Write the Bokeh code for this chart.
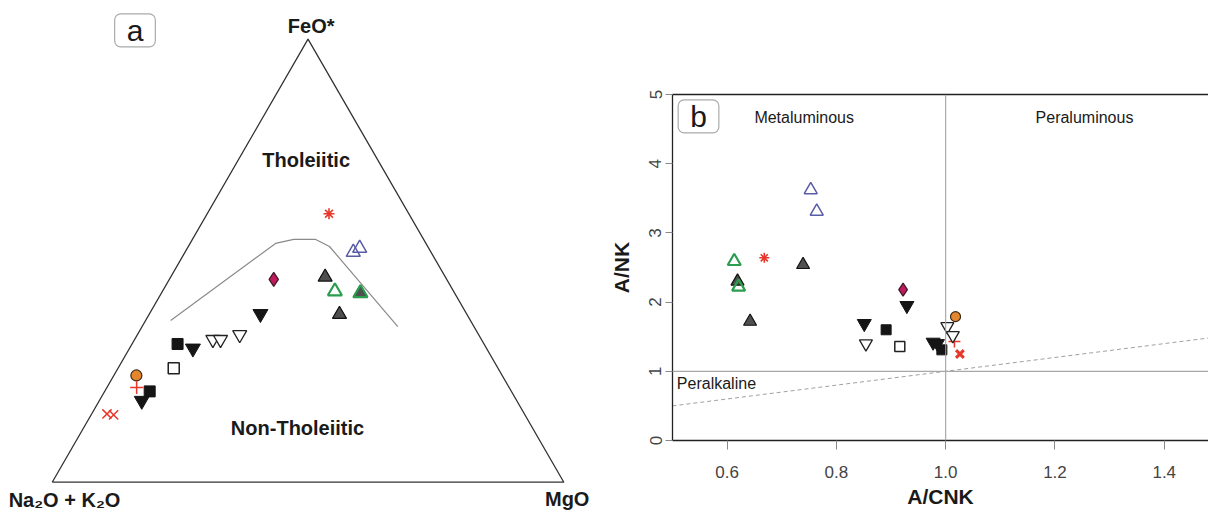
import numpy as np
from bokeh.plotting import figure
from bokeh.layouts import row, column
from bokeh.models import Range1d, Label, Span, LinearAxis, FixedTicker, NumeralTickFormatter
from bokeh.embed import file_html
from bokeh.resources import INLINE

FONT = "Liberation Sans"
SQ3 = np.sqrt(3) / 2

# ---------------- AFM ternary data (wt% FeO*, Na2O+K2O, MgO) ----------------
afm_cross_feo, afm_cross_alk, afm_cross_mgo = [15.4, 15.2], [81.6, 80.4], [3.0, 4.4]
afm_circle_feo, afm_circle_alk, afm_circle_mgo = [24.1], [71.5], [4.4]
afm_plus_feo, afm_plus_alk, afm_plus_mgo = [21.4], [72.8], [5.8]
afm_sqb_feo, afm_sqb_alk, afm_sqb_mgo = [20.5, 31.2], [70.7, 59.9], [8.8, 8.9]
afm_dtb_feo, afm_dtb_alk, afm_dtb_mgo = [18.4, 30.2, 38.0], [73.3, 57.4, 40.3], [8.3, 12.4, 21.7]
afm_sqo_feo, afm_sqo_alk, afm_sqo_mgo = [25.7], [63.4], [10.9]
afm_dto_feo, afm_dto_alk, afm_dto_mgo = [32.2, 32.2, 33.3], [52.5, 51.0, 46.7], [15.3, 16.8, 20.0]
afm_dia_feo, afm_dia_alk, afm_dia_mgo = [45.8], [33.8], [20.4]
afm_trg_feo, afm_trg_alk, afm_trg_mgo = [46.3, 37.9, 42.6], [23.5, 24.9, 18.5], [30.2, 37.2, 38.9]
afm_trn_feo, afm_trn_alk, afm_trn_mgo = [43.1, 42.7], [23.2, 18.4], [33.7, 38.9]
afm_trb_feo, afm_trb_alk, afm_trb_mgo = [51.9, 52.8], [15.2, 13.5], [32.9, 33.7]
afm_ast_feo, afm_ast_alk, afm_ast_mgo = [60.6], [15.6], [23.8]

# tholeiitic / calc-alkaline boundary
bound_feo = [36.5, 53.9, 54.8, 54.8, 53.2, 35.1]
bound_alk = [58.6, 29.4, 25.4, 21.1, 19.2, 14.9]
bound_mgo = [4.9, 16.7, 19.8, 24.1, 27.6, 50.0]

# triangle corners: Na2O+K2O, MgO, FeO*, back to start
corner_feo = [0, 0, 100, 0]
corner_alk = [100, 0, 0, 100]
corner_mgo = [0, 100, 0, 0]

# ---------------- Shand index data (A/CNK, A/NK) ----------------
sh_cross_x, sh_cross_y = [1.026], [1.25]
sh_circle_x, sh_circle_y = [1.018], [1.79]
sh_plus_x, sh_plus_y = [1.016], [1.43]
sh_sqb_x, sh_sqb_y = [0.891, 0.993], [1.60, 1.31]
sh_dtb_x, sh_dtb_y = [0.929, 0.851, 0.977, 0.985], [1.95, 1.69, 1.42, 1.40]
sh_sqo_x, sh_sqo_y = [0.916], [1.36]
sh_dto_x, sh_dto_y = [0.854, 1.003, 1.013], [1.40, 1.65, 1.52]
sh_dia_x, sh_dia_y = [0.922], [2.18]
sh_trg_x, sh_trg_y = [0.739, 0.619, 0.642], [2.54, 2.30, 1.72]
sh_trn_x, sh_trn_y = [0.613, 0.621], [2.59, 2.22]
sh_trb_x, sh_trb_y = [0.753, 0.764], [3.62, 3.31]
sh_ast_x, sh_ast_y = [0.668], [2.64]

# A/NK = A/CNK reference line
eq_x = [0.5, 1.5]
eq_y = [0.5, 1.5]

x_ticks = [0.6, 0.8, 1.0, 1.2, 1.4]
y_ticks = [0, 1, 2, 3, 4, 5]

RED = "#e8382c"
STYLE = {
    "cross": dict(marker="x", size=13, fill_color=None, line_color=RED, line_width=1.5),
    "circle": dict(marker="circle", size=11, fill_color="#e3862d", line_color="#3a2a1a", line_width=1.2),
    "plus": dict(marker="cross", size=13, fill_color=None, line_color=RED, line_width=1.5),
    "sqb": dict(marker="square", size=11, fill_color="#151515", line_color="#151515", line_width=1),
    "dtb": dict(marker="inverted_triangle", size=15, fill_color="#151515", line_color="#151515", line_width=1),
    "sqo": dict(marker="square", size=11, fill_color="white", line_color="#222", line_width=1.5),
    "dto": dict(marker="inverted_triangle", size=14, fill_color="white", line_color="#222", line_width=1.3),
    "dia": dict(marker="diamond", size=14, fill_color="#c01a5c", line_color="#3a1a25", line_width=1.2),
    "trg": dict(marker="triangle", size=14, fill_color="#4f4f4f", line_color="#111", line_width=1.2),
    "trn": dict(marker="triangle", size=14, fill_color="white", fill_alpha=0.0, line_color="#2a9d4e", line_width=2.2),
    "trb": dict(marker="triangle", size=14, fill_color="white", fill_alpha=0.0, line_color="#5a5ca6", line_width=1.5),
    "ast": dict(marker="asterisk", size=11, fill_color=None, line_color=RED, line_width=1.6),
}
ORDER = ["cross", "circle", "plus", "sqb", "dtb", "sqo", "dto", "dia", "trg", "trn", "trb", "ast"]


def ternary_xy(feo, alk, mgo):
    feo, alk, mgo = (np.asarray(v, dtype=float) for v in (feo, alk, mgo))
    tot = feo + alk + mgo
    x = (mgo + feo / 2.0) / tot
    y = feo / tot * SQ3
    return x, y


# ================= panel a =================
pa = figure(width=600, height=512, output_backend="svg", toolbar_location=None,
            x_range=Range1d(-0.1011, 1.0717), y_range=Range1d(-0.0592, 0.9416),
            x_axis_location=None, y_axis_location=None, title=None,
            min_border=0, outline_line_color=None)
pa.grid.visible = False

tx, ty = ternary_xy(corner_feo, corner_alk, corner_mgo)
pa.line(tx, ty, line_color="#333333", line_width=1.3)
bx, by = ternary_xy(bound_feo, bound_alk, bound_mgo)
pa.line(bx, by, line_color="#8a8a8a", line_width=1.2)

afm = {
    "cross": (afm_cross_feo, afm_cross_alk, afm_cross_mgo),
    "circle": (afm_circle_feo, afm_circle_alk, afm_circle_mgo),
    "plus": (afm_plus_feo, afm_plus_alk, afm_plus_mgo),
    "sqb": (afm_sqb_feo, afm_sqb_alk, afm_sqb_mgo),
    "dtb": (afm_dtb_feo, afm_dtb_alk, afm_dtb_mgo),
    "sqo": (afm_sqo_feo, afm_sqo_alk, afm_sqo_mgo),
    "dto": (afm_dto_feo, afm_dto_alk, afm_dto_mgo),
    "dia": (afm_dia_feo, afm_dia_alk, afm_dia_mgo),
    "trg": (afm_trg_feo, afm_trg_alk, afm_trg_mgo),
    "trn": (afm_trn_feo, afm_trn_alk, afm_trn_mgo),
    "trb": (afm_trb_feo, afm_trb_alk, afm_trb_mgo),
    "ast": (afm_ast_feo, afm_ast_alk, afm_ast_mgo),
}
for key in ORDER:
    x, y = ternary_xy(*afm[key])
    pa.scatter(x, y, **STYLE[key])


def add_text(p, x, y, text, size, bold=False, align="center", color="#1a1a1a"):
    p.add_layout(Label(x=x, y=y, text=text, text_font=FONT, text_font_size=f"{size}px",
                       text_font_style="bold" if bold else "normal", text_color=color,
                       text_align=align, text_baseline="middle"))


add_text(pa, 0.5062, 0.8927, "FeO*", 20, bold=True)
add_text(pa, 1.0066, -0.0324, "MgO", 20, bold=True)
add_text(pa, 0.024, -0.0345, "Na\u2082O + K\u2082O", 20, bold=True)
add_text(pa, 0.4963, 0.6302, "Tholeiitic", 20, bold=True)
add_text(pa, 0.4795, 0.105, "Non-Tholeiitic", 20, bold=True)
pa.add_layout(Label(x=0.1618, y=0.8833, text="a", text_font=FONT, text_font_size="30px",
                    text_color="#1a1a1a", text_align="center", text_baseline="middle",
                    background_fill_color="white", border_line_color="#aaaaaa",
                    border_line_width=1.2, border_radius=6,
                    padding=dict(left=12, right=12, top=0, bottom=0)))

# ================= panel b =================
pb = figure(width=608, height=512, output_backend="svg", toolbar_location=None,
            x_range=Range1d(0.5, 1.481), y_range=Range1d(0, 5), title=None,
            min_border_left=72, min_border_right=0, min_border_top=94, min_border_bottom=72,
            outline_line_color=None)
pb.grid.visible = False

for ax in (pb.xaxis[0], pb.yaxis[0]):
    ax.axis_line_color = "#222222"
    ax.axis_line_width = 1.3
    ax.major_tick_line_color = "#888888"
    ax.major_tick_in = 0
    ax.minor_tick_line_color = None
    ax.major_label_text_font = FONT
    ax.major_label_text_font_size = "17px"
    ax.major_label_text_color = "#444444"
    ax.axis_label_text_font = FONT
    ax.axis_label_text_font_size = "21px"
    ax.axis_label_text_font_style = "bold"
    ax.axis_label_text_color = "#1a1a1a"

pb.xaxis.axis_label = "A/CNK"
pb.xaxis.ticker = FixedTicker(ticks=x_ticks)
pb.xaxis.formatter = NumeralTickFormatter(format="0.0")
pb.xaxis.major_tick_out = 9
pb.xaxis.major_label_standoff = 16
pb.xaxis.axis_label_standoff = 4

pb.yaxis.axis_label = "A/NK"
pb.yaxis.ticker = FixedTicker(ticks=y_ticks)
pb.yaxis.formatter = NumeralTickFormatter(format="0")
pb.yaxis.major_tick_out = 7
pb.yaxis.major_label_standoff = 4
pb.yaxis.major_label_orientation = "vertical"
pb.yaxis.axis_label_standoff = 14

top = LinearAxis(axis_line_color="#222222", axis_line_width=1.3, major_tick_line_color=None,
                 minor_tick_line_color=None, major_label_text_font_size="0px",
                 major_tick_out=0, major_tick_in=0, ticker=FixedTicker(ticks=[]))
pb.add_layout(top, "above")

pb.add_layout(Span(location=1.0, dimension="height", line_color="#9a9a9a", line_width=1))
pb.add_layout(Span(location=1.0, dimension="width", line_color="#a8a8a8", line_width=1.3))
pb.line(eq_x, eq_y, line_color="#a0a0a0", line_width=1, line_dash="4 3")

shand = {
    "cross": (sh_cross_x, sh_cross_y),
    "circle": (sh_circle_x, sh_circle_y),
    "plus": (sh_plus_x, sh_plus_y),
    "sqb": (sh_sqb_x, sh_sqb_y),
    "dtb": (sh_dtb_x, sh_dtb_y),
    "sqo": (sh_sqo_x, sh_sqo_y),
    "dto": (sh_dto_x, sh_dto_y),
    "dia": (sh_dia_x, sh_dia_y),
    "trg": (sh_trg_x, sh_trg_y),
    "trn": (sh_trn_x, sh_trn_y),
    "trb": (sh_trb_x, sh_trb_y),
    "ast": (sh_ast_x, sh_ast_y),
}
for key in ORDER:
    st = dict(STYLE[key])
    st["size"] = st["size"] - 1
    if key == "cross":
        st["line_width"] = 3
        st["size"] = 11
    pb.scatter(shand[key][0], shand[key][1], **st)

add_text(pb, 0.741, 4.67, "Metaluminous", 16)
add_text(pb, 1.254, 4.67, "Peraluminous", 16)
add_text(pb, 0.508, 0.83, "Peralkaline", 16, align="left")
pb.add_layout(Label(x=0.5476, y=4.684, text="b", text_font=FONT, text_font_size="30px",
                    text_color="#1a1a1a", text_align="center", text_baseline="middle",
                    background_fill_color="white", border_line_color="#aaaaaa",
                    border_line_width=1.2, border_radius=6,
                    padding=dict(left=12, right=12, top=0, bottom=0)))

layout = row(column(pa), column(pb))
open("out.html", "w").write(file_html(layout, INLINE))
